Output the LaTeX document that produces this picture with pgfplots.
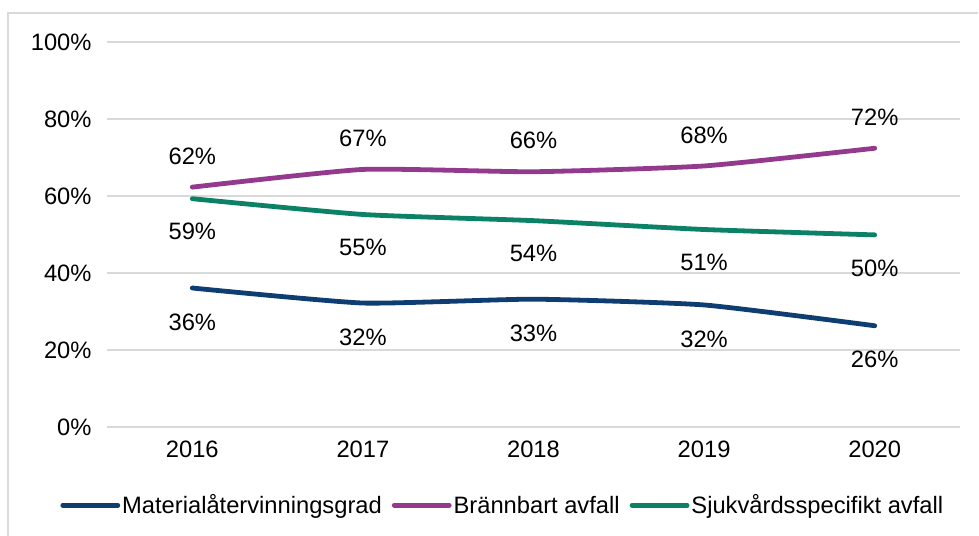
\documentclass[border=0pt]{standalone}
\usepackage{fontspec}
\setmainfont{Liberation Sans}
\usepackage{pgfplots}
\pgfplotsset{compat=1.18}

\definecolor{gridgray}{HTML}{D9D9D9}
\definecolor{cblue}{HTML}{0E3D71}
\definecolor{cpurple}{HTML}{933A8F}
\definecolor{cgreen}{HTML}{0B8165}

\newcommand{\lbl}{\fontsize{23.8}{28}\selectfont}

\begin{document}
\begin{tikzpicture}
% image px -> bp, origin at the axis' lower left corner (107,427)
\useasboundingbox (-107bp,-109bp) rectangle (872bp,427bp);
\draw[gridgray, line width=1.5bp] (-99bp,-109bp) -- (-99bp,414bp) -- (871bp,414bp);
\begin{axis}[
  at={(0,0)}, anchor=south west,
  scale only axis,
  width=853bp, height=385bp,
  xmin=-0.5, xmax=4.5,
  ymin=0, ymax=100,
  xtick={0,1,2,3,4},
  xticklabels={2016,2017,2018,2019,2020},
  ytick={0,20,40,60,80,100},
  yticklabel={\pgfmathprintnumber{\tick}\%},
  /pgf/number format/assume math mode=true,
  axis x line*=bottom, axis y line*=left,
  y axis line style={draw=none},
  x axis line style={draw=gridgray, line width=1.5bp},
  ymajorgrids,
  grid style={gridgray, line width=1.5bp},
  major tick length=0pt,
  tick style={draw=none},
  tick label style={font=\lbl},
  yticklabel style={xshift=-12bp},
  xticklabel style={yshift=-10bp},
  point meta=explicit symbolic,
  nodes near coords={\pgfplotspointmeta\%},
  legend columns=3,
  legend style={draw=none, fill=none, font=\lbl,
    at={(axis description cs:0.464,-0.203)}, anchor=center,
    /tikz/every even column/.append style={column sep=8bp}},
  legend image code/.code={\draw[#1, line cap=round] (0bp,0bp) -- (55bp,0bp);},
  clip=false,
]
\addplot[cblue, line width=4.8bp, smooth, tension=0.3, line cap=round,
  every node near coord/.append style={font=\lbl, anchor=center, yshift=-34bp, text=black}]
  coordinates {(0,36.1)[36] (1,32.2)[32] (2,33.2)[33] (3,31.7)[32] (4,26.3)[26]};
\addlegendentry{Materialåtervinningsgrad}
\addplot[cpurple, line width=4.8bp, smooth, tension=0.3, line cap=round,
  every node near coord/.append style={font=\lbl, anchor=center, yshift=31bp, text=black}]
  coordinates {(0,62.3)[62] (1,66.9)[67] (2,66.3)[66] (3,67.8)[68] (4,72.4)[72]};
\addlegendentry{Brännbart avfall}
\addplot[cgreen, line width=4.8bp, smooth, tension=0.3, line cap=round,
  every node near coord/.append style={font=\lbl, anchor=center, yshift=-33bp, text=black}]
  coordinates {(0,59.3)[59] (1,55.2)[55] (2,53.6)[54] (3,51.3)[51] (4,49.9)[50]};
\addlegendentry{Sjukvårdsspecifikt avfall}
\end{axis}
\end{tikzpicture}
\end{document}
